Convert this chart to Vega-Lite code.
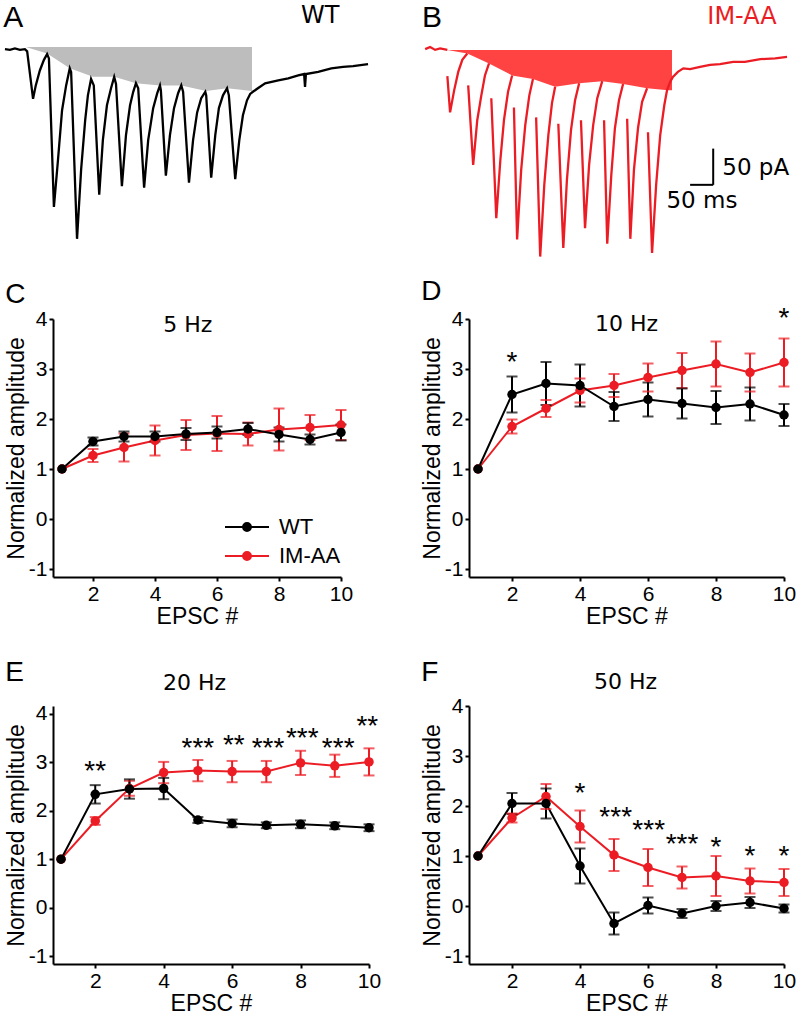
{
  "$schema": "https://vega.github.io/schema/vega-lite/v6.json",
  "padding": {"left": 0, "top": 3, "right": 0, "bottom": 0},
  "background": "white",
  "columns": 1,
  "align": "none",
  "bounds": "full",
  "spacing": 15,
  "resolve": {"scale": {"color": "independent"}, "legend": {"color": "independent"}},
  "config": {
    "view": {"stroke": null},
    "font": "Liberation Sans",
    "axis": {"domainColor": "#000000", "domainWidth": 2, "tickColor": "#000000", "tickWidth": 2, "tickSize": 4, "labelColor": "#000000", "labelFontSize": 21, "labelFont": "Liberation Sans", "titleFont": "Liberation Sans", "titleFontSize": 23, "titleFontWeight": "normal", "titleColor": "#000000", "grid": false, "labelPadding": 2, "labelFlush": false, "labelOverlap": false},
    "axisY": {"titlePadding": 0},
    "axisX": {"titlePadding": 1},
    "title": {"fontWeight": "normal", "fontSize": 28, "font": "Liberation Sans", "anchor": "start", "frame": "bounds", "color": "#000000"}
  },
  "concat": [
    {
      "spacing": 42,
      "bounds": "full",
      "hconcat": [
        {
          "width": 325, "height": 255,
          "encoding": {
            "x": {"field": "t", "type": "quantitative", "scale": {"domain": [106, 823], "nice": false, "zero": false}, "axis": null},
            "y": {"field": "i", "type": "quantitative", "scale": {"domain": [-294, 65], "nice": false, "zero": false}, "axis": null}
          },
          "layer": [
            {"data": {"values": [{"t":46,"i":3},{"t":93,"i":-6},{"t":143,"i":-27},{"t":194,"i":-39},{"t":241,"i":-39},{"t":289,"i":-48},{"t":342,"i":-51},{"t":389,"i":-51},{"t":444,"i":-59},{"t":490,"i":-55},{"t":545,"i":-59}]},
             "mark": {"type": "area", "color": "#bdbdbd", "opacity": 1}, "encoding": {"y2": {"datum": 3}}},
            {"data": {"values": [{"t":0,"i":0},{"t":11,"i":-1},{"t":22,"i":1},{"t":33,"i":-1},{"t":44,"i":0},{"t":49,"i":-3},{"t":62,"i":-70},{"t":68,"i":-51},{"t":77,"i":-30},{"t":86,"i":-15},{"t":93,"i":-7},{"t":97,"i":-13},{"t":108,"i":-222},{"t":117,"i":-156},{"t":126,"i":-86},{"t":135,"i":-51},{"t":143,"i":-27},{"t":146,"i":-32},{"t":159,"i":-267},{"t":168,"i":-170},{"t":177,"i":-100},{"t":183,"i":-65},{"t":190,"i":-42},{"t":196,"i":-51},{"t":208,"i":-205},{"t":216,"i":-128},{"t":225,"i":-79},{"t":234,"i":-55},{"t":241,"i":-39},{"t":245,"i":-49},{"t":258,"i":-193},{"t":267,"i":-121},{"t":276,"i":-79},{"t":283,"i":-60},{"t":289,"i":-48},{"t":294,"i":-55},{"t":307,"i":-195},{"t":316,"i":-128},{"t":327,"i":-83},{"t":336,"i":-62},{"t":342,"i":-51},{"t":344,"i":-58},{"t":355,"i":-178},{"t":364,"i":-121},{"t":373,"i":-83},{"t":382,"i":-62},{"t":389,"i":-51},{"t":393,"i":-60},{"t":406,"i":-188},{"t":415,"i":-128},{"t":424,"i":-89},{"t":433,"i":-69},{"t":442,"i":-60},{"t":444,"i":-65},{"t":455,"i":-181},{"t":464,"i":-121},{"t":472,"i":-83},{"t":481,"i":-65},{"t":490,"i":-55},{"t":494,"i":-65},{"t":508,"i":-183},{"t":517,"i":-128},{"t":525,"i":-93},{"t":534,"i":-72},{"t":541,"i":-63},{"t":547,"i":-60},{"t":558,"i":-55},{"t":574,"i":-48},{"t":603,"i":-44},{"t":625,"i":-41},{"t":647,"i":-37},{"t":660,"i":-35},{"t":662,"i":-53},{"t":664,"i":-35},{"t":691,"i":-32},{"t":720,"i":-27},{"t":746,"i":-25},{"t":768,"i":-24},{"t":801,"i":-21}]},
             "mark": {"type": "line", "color": "#000000", "strokeWidth": 2.3}},
            {"data": {"values": [{"t": -4, "i": 31, "label": "A"}]},
             "mark": {"type": "text", "font": "Liberation Sans", "fontSize": 30, "align": "left", "baseline": "alphabetic", "color": "#000000"},
             "encoding": {"text": {"field": "label"}}},
            {"data": {"values": [{"t": 653, "i": 37, "label": "WT"}]},
             "mark": {"type": "text", "font": "DejaVu Sans", "fontSize": 24, "align": "left", "baseline": "alphabetic", "color": "#000000"},
             "encoding": {"text": {"field": "label"}}}
          ]
        },
        {
          "width": 370, "height": 255,
          "encoding": {
            "x": {"field": "t", "type": "quantitative", "scale": {"domain": [-7, 810], "nice": false, "zero": false}, "axis": null},
            "y": {"field": "i", "type": "quantitative", "scale": {"domain": [-294, 65], "nice": false, "zero": false}, "axis": null}
          },
          "layer": [
            {"data": {"values": [{"t":49,"i":-1},{"t":93,"i":-6},{"t":141,"i":-20},{"t":192,"i":-37},{"t":238,"i":-42},{"t":287,"i":-53},{"t":340,"i":-48},{"t":391,"i":-45},{"t":437,"i":-49},{"t":490,"i":-55},{"t":536,"i":-58},{"t":545,"i":-58}]},
             "mark": {"type": "area", "color": "#ff4343", "opacity": 1}, "encoding": {"y2": {"datum": -1}}},
            {"data": {"values": [
              {"seg":0,"t":0,"i":0},{"seg":0,"t":11,"i":3},{"seg":0,"t":22,"i":-1},{"seg":0,"t":33,"i":1},{"seg":0,"t":49,"i":-1},
              {"seg":1,"t":49,"i":-38},{"seg":1,"t":55,"i":-89},{"seg":1,"t":64,"i":-58},{"seg":1,"t":73,"i":-32},{"seg":1,"t":82,"i":-15},{"seg":1,"t":93,"i":-6},
              {"seg":2,"t":95,"i":-51},{"seg":2,"t":106,"i":-163},{"seg":2,"t":115,"i":-100},{"seg":2,"t":124,"i":-65},{"seg":2,"t":132,"i":-37},{"seg":2,"t":141,"i":-20},
              {"seg":3,"t":146,"i":-69},{"seg":3,"t":157,"i":-238},{"seg":3,"t":166,"i":-156},{"seg":3,"t":174,"i":-100},{"seg":3,"t":183,"i":-60},{"seg":3,"t":192,"i":-37},
              {"seg":4,"t":196,"i":-82},{"seg":4,"t":203,"i":-268},{"seg":4,"t":212,"i":-170},{"seg":4,"t":221,"i":-107},{"seg":4,"t":230,"i":-65},{"seg":4,"t":238,"i":-42},
              {"seg":5,"t":245,"i":-96},{"seg":5,"t":254,"i":-292},{"seg":5,"t":263,"i":-191},{"seg":5,"t":272,"i":-121},{"seg":5,"t":280,"i":-76},{"seg":5,"t":287,"i":-53},
              {"seg":6,"t":294,"i":-105},{"seg":6,"t":305,"i":-280},{"seg":6,"t":313,"i":-184},{"seg":6,"t":322,"i":-114},{"seg":6,"t":331,"i":-72},{"seg":6,"t":340,"i":-48},
              {"seg":7,"t":344,"i":-100},{"seg":7,"t":353,"i":-252},{"seg":7,"t":362,"i":-163},{"seg":7,"t":371,"i":-107},{"seg":7,"t":380,"i":-69},{"seg":7,"t":391,"i":-45},
              {"seg":8,"t":395,"i":-100},{"seg":8,"t":402,"i":-274},{"seg":8,"t":411,"i":-177},{"seg":8,"t":419,"i":-111},{"seg":8,"t":428,"i":-72},{"seg":8,"t":437,"i":-49},
              {"seg":9,"t":446,"i":-98},{"seg":9,"t":453,"i":-267},{"seg":9,"t":461,"i":-170},{"seg":9,"t":470,"i":-111},{"seg":9,"t":479,"i":-74},{"seg":9,"t":490,"i":-55},
              {"seg":10,"t":492,"i":-117},{"seg":10,"t":501,"i":-287},{"seg":10,"t":510,"i":-191},{"seg":10,"t":519,"i":-121},{"seg":10,"t":528,"i":-79},{"seg":10,"t":534,"i":-58},{"seg":10,"t":541,"i":-46},{"seg":10,"t":547,"i":-39},{"seg":10,"t":558,"i":-32},{"seg":10,"t":570,"i":-27},{"seg":10,"t":585,"i":-28},{"seg":10,"t":607,"i":-25},{"seg":10,"t":629,"i":-22},{"seg":10,"t":651,"i":-21},{"seg":10,"t":680,"i":-18},{"seg":10,"t":706,"i":-18},{"seg":10,"t":740,"i":-14},{"seg":10,"t":773,"i":-13},{"seg":10,"t":799,"i":-11}
            ]},
             "mark": {"type": "line", "color": "#ec1c24", "strokeWidth": 2.3},
             "encoding": {"detail": {"field": "seg", "type": "nominal"}}},
            {"data": {"values": [{"t": 636, "i": -140, "t2": 636, "i2": -191}, {"t": 585, "i": -191, "t2": 636, "i2": -191}]},
             "mark": {"type": "rule", "color": "#000000", "strokeWidth": 2},
             "encoding": {"x2": {"field": "t2"}, "y2": {"field": "i2"}}},
            {"data": {"values": [{"t": 656, "i": -177, "label": "50 pA"}]},
             "mark": {"type": "text", "font": "DejaVu Sans", "fontSize": 23, "align": "left", "baseline": "alphabetic", "color": "#000000"},
             "encoding": {"text": {"field": "label"}}},
            {"data": {"values": [{"t": 611, "i": -223, "label": "50 ms"}]},
             "mark": {"type": "text", "font": "DejaVu Sans", "fontSize": 23, "align": "center", "baseline": "alphabetic", "color": "#000000"},
             "encoding": {"text": {"field": "label"}}},
            {"data": {"values": [{"t": -7, "i": 31, "label": "B"}]},
             "mark": {"type": "text", "font": "Liberation Sans", "fontSize": 30, "align": "left", "baseline": "alphabetic", "color": "#000000"},
             "encoding": {"text": {"field": "label"}}},
            {"data": {"values": [{"t": 623, "i": 35, "label": "IM-AA"}]},
             "mark": {"type": "text", "font": "DejaVu Sans", "fontSize": 24, "align": "left", "baseline": "alphabetic", "color": "#ec1c24"},
             "encoding": {"text": {"field": "label"}}}
          ]
        }
      ]
    },
    {
      "columns": 2,
      "spacing": {"row": 31, "column": 40},
      "align": "each",
      "bounds": "full",
      "resolve": {"scale": {"color": "independent"}, "legend": {"color": "independent"}},
      "concat": [
        {
          "title": {"text": "C", "offset": -1},
          "width": 288, "height": 258,
          "data": {"values": [
            {"EPSC":1,"geno":"IM-AA","amp":1.0},
            {"EPSC":2,"geno":"IM-AA","amp":1.27,"lo":1.14,"hi":1.40},
            {"EPSC":3,"geno":"IM-AA","amp":1.43,"lo":1.15,"hi":1.71},
            {"EPSC":4,"geno":"IM-AA","amp":1.57,"lo":1.27,"hi":1.87},
            {"EPSC":5,"geno":"IM-AA","amp":1.68,"lo":1.38,"hi":1.98},
            {"EPSC":6,"geno":"IM-AA","amp":1.71,"lo":1.36,"hi":2.06},
            {"EPSC":7,"geno":"IM-AA","amp":1.70,"lo":1.47,"hi":1.93},
            {"EPSC":8,"geno":"IM-AA","amp":1.79,"lo":1.37,"hi":2.21},
            {"EPSC":9,"geno":"IM-AA","amp":1.83,"lo":1.58,"hi":2.08},
            {"EPSC":10,"geno":"IM-AA","amp":1.88,"lo":1.58,"hi":2.18},
            {"EPSC":1,"geno":"WT","amp":1.0},
            {"EPSC":2,"geno":"WT","amp":1.55,"lo":1.47,"hi":1.63},
            {"EPSC":3,"geno":"WT","amp":1.65,"lo":1.55,"hi":1.75},
            {"EPSC":4,"geno":"WT","amp":1.65,"lo":1.55,"hi":1.75},
            {"EPSC":5,"geno":"WT","amp":1.70,"lo":1.58,"hi":1.82},
            {"EPSC":6,"geno":"WT","amp":1.73,"lo":1.61,"hi":1.85},
            {"EPSC":7,"geno":"WT","amp":1.80,"lo":1.68,"hi":1.92},
            {"EPSC":8,"geno":"WT","amp":1.69,"lo":1.55,"hi":1.83},
            {"EPSC":9,"geno":"WT","amp":1.59,"lo":1.49,"hi":1.69},
            {"EPSC":10,"geno":"WT","amp":1.73,"lo":1.57,"hi":1.89}
          ]},
          "encoding": {
            "x": {"field": "EPSC", "type": "quantitative", "title": "EPSC #", "scale": {"domain": [0.71, 10], "nice": false, "zero": false}, "axis": {"values": [2,4,6,8,10]}},
            "y": {"field": "amp", "type": "quantitative", "title": "Normalized amplitude", "scale": {"domain": [-1.16, 4], "nice": false, "zero": false}, "axis": {"values": [-1,0,1,2,3,4], "labelExpr": "replace(datum.label, '\u2212', '-')"}},
            "color": {"field": "geno", "type": "nominal", "scale": {"domain": ["WT", "IM-AA"], "range": ["#000000", "#ec1c24"]},
              "legend": {"orient": "none", "legendX": 182, "legendY": 196, "title": null, "padding": 0,
                "symbolType": "M-2,0H2M-0.36,0A0.36,0.36,0,1,1,0.36,0A0.36,0.36,0,1,1,-0.36,0Z",
                "symbolSize": 484, "symbolStrokeWidth": 2, "labelFontSize": 22, "labelFont": "Liberation Sans", "labelColor": "#000000", "labelOffset": 20, "rowPadding": 6,
                "encode": {"symbols": {"update": {"fill": {"signal": "datum.value === 'WT' ? '#000000' : '#ec1c24'"}, "stroke": {"signal": "datum.value === 'WT' ? '#000000' : '#ec1c24'"}, "opacity": {"value": 1}}}}}}
          },
          "layer": [
            {"mark": {"type": "line", "strokeWidth": 2}},
            {"transform": [{"filter": "isValid(datum.lo)"}], "mark": {"type": "rule", "strokeWidth": 2}, "encoding": {"y": {"field": "lo", "type": "quantitative", "title": "Normalized amplitude"}, "y2": {"field": "hi"}}},
            {"transform": [{"filter": "isValid(datum.lo)"}], "mark": {"type": "tick", "orient": "horizontal", "size": 11, "thickness": 2}, "encoding": {"y": {"field": "lo", "type": "quantitative", "title": "Normalized amplitude"}}},
            {"transform": [{"filter": "isValid(datum.hi)"}], "mark": {"type": "tick", "orient": "horizontal", "size": 11, "thickness": 2}, "encoding": {"y": {"field": "hi", "type": "quantitative", "title": "Normalized amplitude"}}},
            {"mark": {"type": "point", "filled": true, "size": 90, "opacity": 1}},
            {"data": {"values": [{"EPSC": 5.06, "amp": 3.9, "label": "5 Hz"}]}, "mark": {"type": "text", "font": "DejaVu Sans", "fontSize": 22, "baseline": "alphabetic", "dy": 8}, "encoding": {"text": {"field": "label"}, "color": {"value": "#000000"}}}
          ]
        },
        {
          "title": {"text": "D", "offset": -1},
          "width": 315, "height": 258,
          "data": {"values": [
            {"EPSC":1,"geno":"IM-AA","amp":1.0},
            {"EPSC":2,"geno":"IM-AA","amp":1.85,"lo":1.71,"hi":1.99},
            {"EPSC":3,"geno":"IM-AA","amp":2.21,"lo":2.04,"hi":2.38},
            {"EPSC":4,"geno":"IM-AA","amp":2.57,"lo":2.33,"hi":2.81},
            {"EPSC":5,"geno":"IM-AA","amp":2.67,"lo":2.44,"hi":2.90},
            {"EPSC":6,"geno":"IM-AA","amp":2.83,"lo":2.55,"hi":3.11},
            {"EPSC":7,"geno":"IM-AA","amp":2.97,"lo":2.62,"hi":3.32},
            {"EPSC":8,"geno":"IM-AA","amp":3.10,"lo":2.65,"hi":3.55},
            {"EPSC":9,"geno":"IM-AA","amp":2.93,"lo":2.55,"hi":3.31},
            {"EPSC":10,"geno":"IM-AA","amp":3.13,"lo":2.65,"hi":3.61},
            {"EPSC":1,"geno":"WT","amp":1.0},
            {"EPSC":2,"geno":"WT","amp":2.49,"lo":2.13,"hi":2.85},
            {"EPSC":3,"geno":"WT","amp":2.71,"lo":2.28,"hi":3.14},
            {"EPSC":4,"geno":"WT","amp":2.67,"lo":2.25,"hi":3.09},
            {"EPSC":5,"geno":"WT","amp":2.25,"lo":1.96,"hi":2.54},
            {"EPSC":6,"geno":"WT","amp":2.39,"lo":2.05,"hi":2.73},
            {"EPSC":7,"geno":"WT","amp":2.31,"lo":2.01,"hi":2.61},
            {"EPSC":8,"geno":"WT","amp":2.23,"lo":1.90,"hi":2.56},
            {"EPSC":9,"geno":"WT","amp":2.30,"lo":1.97,"hi":2.63},
            {"EPSC":10,"geno":"WT","amp":2.08,"lo":1.86,"hi":2.30}
          ]},
          "encoding": {
            "x": {"field": "EPSC", "type": "quantitative", "title": "EPSC #", "scale": {"domain": [0.735, 10], "nice": false, "zero": false}, "axis": {"values": [2,4,6,8,10]}},
            "y": {"field": "amp", "type": "quantitative", "title": "Normalized amplitude", "scale": {"domain": [-1.16, 4], "nice": false, "zero": false}, "axis": {"values": [-1,0,1,2,3,4], "labelExpr": "replace(datum.label, '\u2212', '-')"}},
            "color": {"field": "geno", "type": "nominal", "scale": {"domain": ["WT", "IM-AA"], "range": ["#000000", "#ec1c24"]}, "legend": null}
          },
          "layer": [
            {"mark": {"type": "line", "strokeWidth": 2}},
            {"transform": [{"filter": "isValid(datum.lo)"}], "mark": {"type": "rule", "strokeWidth": 2}, "encoding": {"y": {"field": "lo", "type": "quantitative", "title": "Normalized amplitude"}, "y2": {"field": "hi"}}},
            {"transform": [{"filter": "isValid(datum.lo)"}], "mark": {"type": "tick", "orient": "horizontal", "size": 11, "thickness": 2}, "encoding": {"y": {"field": "lo", "type": "quantitative", "title": "Normalized amplitude"}}},
            {"transform": [{"filter": "isValid(datum.hi)"}], "mark": {"type": "tick", "orient": "horizontal", "size": 11, "thickness": 2}, "encoding": {"y": {"field": "hi", "type": "quantitative", "title": "Normalized amplitude"}}},
            {"mark": {"type": "point", "filled": true, "size": 90, "opacity": 1}},
            {"data": {"values": [{"EPSC": 5.37, "amp": 3.93, "label": "10 Hz"}]}, "mark": {"type": "text", "font": "DejaVu Sans", "fontSize": 22, "baseline": "alphabetic", "dy": 8}, "encoding": {"text": {"field": "label"}, "color": {"value": "#000000"}}},
            {"data": {"values": [{"EPSC": 2, "amp": 3.25, "label": "*"}, {"EPSC": 10, "amp": 4.13, "label": "*"}]}, "mark": {"type": "text", "font": "Liberation Sans", "fontSize": 28, "baseline": "alphabetic", "dy": 14}, "encoding": {"text": {"field": "label"}, "color": {"value": "#000000"}}}
          ]
        },
        {
          "title": {"text": "E", "offset": -15},
          "width": 316, "height": 258,
          "data": {"values": [
            {"EPSC":1,"geno":"IM-AA","amp":1.0},
            {"EPSC":2,"geno":"IM-AA","amp":1.79,"lo":1.71,"hi":1.87},
            {"EPSC":3,"geno":"IM-AA","amp":2.46,"lo":2.31,"hi":2.62},
            {"EPSC":4,"geno":"IM-AA","amp":2.79,"lo":2.57,"hi":3.01},
            {"EPSC":5,"geno":"IM-AA","amp":2.83,"lo":2.61,"hi":3.05},
            {"EPSC":6,"geno":"IM-AA","amp":2.81,"lo":2.59,"hi":3.03},
            {"EPSC":7,"geno":"IM-AA","amp":2.81,"lo":2.59,"hi":3.03},
            {"EPSC":8,"geno":"IM-AA","amp":2.99,"lo":2.74,"hi":3.24},
            {"EPSC":9,"geno":"IM-AA","amp":2.93,"lo":2.70,"hi":3.16},
            {"EPSC":10,"geno":"IM-AA","amp":3.01,"lo":2.73,"hi":3.29},
            {"EPSC":1,"geno":"WT","amp":1.0},
            {"EPSC":2,"geno":"WT","amp":2.34,"lo":2.15,"hi":2.53},
            {"EPSC":3,"geno":"WT","amp":2.45,"lo":2.25,"hi":2.65},
            {"EPSC":4,"geno":"WT","amp":2.46,"lo":2.24,"hi":2.68},
            {"EPSC":5,"geno":"WT","amp":1.81,"lo":1.75,"hi":1.87},
            {"EPSC":6,"geno":"WT","amp":1.74,"lo":1.66,"hi":1.82},
            {"EPSC":7,"geno":"WT","amp":1.70,"lo":1.64,"hi":1.76},
            {"EPSC":8,"geno":"WT","amp":1.72,"lo":1.64,"hi":1.80},
            {"EPSC":9,"geno":"WT","amp":1.69,"lo":1.62,"hi":1.76},
            {"EPSC":10,"geno":"WT","amp":1.65,"lo":1.58,"hi":1.72}
          ]},
          "encoding": {
            "x": {"field": "EPSC", "type": "quantitative", "title": "EPSC #", "scale": {"domain": [0.766, 10], "nice": false, "zero": false}, "axis": {"values": [2,4,6,8,10]}},
            "y": {"field": "amp", "type": "quantitative", "title": "Normalized amplitude", "scale": {"domain": [-1.165, 4.165], "nice": false, "zero": false}, "axis": {"values": [-1,0,1,2,3,4], "labelExpr": "replace(datum.label, '\u2212', '-')"}},
            "color": {"field": "geno", "type": "nominal", "scale": {"domain": ["WT", "IM-AA"], "range": ["#000000", "#ec1c24"]}, "legend": null}
          },
          "layer": [
            {"mark": {"type": "line", "strokeWidth": 2}},
            {"transform": [{"filter": "isValid(datum.lo)"}], "mark": {"type": "rule", "strokeWidth": 2}, "encoding": {"y": {"field": "lo", "type": "quantitative", "title": "Normalized amplitude"}, "y2": {"field": "hi"}}},
            {"transform": [{"filter": "isValid(datum.lo)"}], "mark": {"type": "tick", "orient": "horizontal", "size": 11, "thickness": 2}, "encoding": {"y": {"field": "lo", "type": "quantitative", "title": "Normalized amplitude"}}},
            {"transform": [{"filter": "isValid(datum.hi)"}], "mark": {"type": "tick", "orient": "horizontal", "size": 11, "thickness": 2}, "encoding": {"y": {"field": "hi", "type": "quantitative", "title": "Normalized amplitude"}}},
            {"mark": {"type": "point", "filled": true, "size": 90, "opacity": 1}},
            {"data": {"values": [{"EPSC": 4.9, "amp": 4.66, "label": "20 Hz"}]}, "mark": {"type": "text", "font": "DejaVu Sans", "fontSize": 22, "baseline": "alphabetic", "dy": 8}, "encoding": {"text": {"field": "label"}, "color": {"value": "#000000"}}},
            {"data": {"values": [{"EPSC": 2, "amp": 2.93, "label": "**"}, {"EPSC": 5, "amp": 3.4, "label": "***"}, {"EPSC": 6.05, "amp": 3.47, "label": "**"}, {"EPSC": 7.05, "amp": 3.4, "label": "***"}, {"EPSC": 8.05, "amp": 3.6, "label": "***"}, {"EPSC": 9.1, "amp": 3.4, "label": "***"}, {"EPSC": 9.95, "amp": 3.86, "label": "**"}]}, "mark": {"type": "text", "font": "Liberation Sans", "fontSize": 28, "baseline": "alphabetic", "dy": 14}, "encoding": {"text": {"field": "label"}, "color": {"value": "#000000"}}}
          ]
        },
        {
          "title": {"text": "F", "offset": -16},
          "width": 315, "height": 258,
          "data": {"values": [
            {"EPSC":1,"geno":"IM-AA","amp":1.0},
            {"EPSC":2,"geno":"IM-AA","amp":1.76,"lo":1.67,"hi":1.85},
            {"EPSC":3,"geno":"IM-AA","amp":2.19,"lo":1.94,"hi":2.44},
            {"EPSC":4,"geno":"IM-AA","amp":1.59,"lo":1.27,"hi":1.91},
            {"EPSC":5,"geno":"IM-AA","amp":1.02,"lo":0.70,"hi":1.34},
            {"EPSC":6,"geno":"IM-AA","amp":0.77,"lo":0.40,"hi":1.14},
            {"EPSC":7,"geno":"IM-AA","amp":0.57,"lo":0.35,"hi":0.79},
            {"EPSC":8,"geno":"IM-AA","amp":0.60,"lo":0.20,"hi":1.00},
            {"EPSC":9,"geno":"IM-AA","amp":0.50,"lo":0.25,"hi":0.75},
            {"EPSC":10,"geno":"IM-AA","amp":0.47,"lo":0.20,"hi":0.74},
            {"EPSC":1,"geno":"WT","amp":1.0},
            {"EPSC":2,"geno":"WT","amp":2.05,"lo":1.84,"hi":2.26},
            {"EPSC":3,"geno":"WT","amp":2.05,"lo":1.75,"hi":2.35},
            {"EPSC":4,"geno":"WT","amp":0.80,"lo":0.45,"hi":1.15},
            {"EPSC":5,"geno":"WT","amp":-0.35,"lo":-0.57,"hi":-0.13},
            {"EPSC":6,"geno":"WT","amp":0.01,"lo":-0.15,"hi":0.17},
            {"EPSC":7,"geno":"WT","amp":-0.15,"lo":-0.24,"hi":-0.06},
            {"EPSC":8,"geno":"WT","amp":0.00,"lo":-0.10,"hi":0.10},
            {"EPSC":9,"geno":"WT","amp":0.07,"lo":-0.04,"hi":0.18},
            {"EPSC":10,"geno":"WT","amp":-0.05,"lo":-0.13,"hi":0.03}
          ]},
          "encoding": {
            "x": {"field": "EPSC", "type": "quantitative", "title": "EPSC #", "scale": {"domain": [0.735, 10], "nice": false, "zero": false}, "axis": {"values": [2,4,6,8,10]}},
            "y": {"field": "amp", "type": "quantitative", "title": "Normalized amplitude", "scale": {"domain": [-1.16, 4], "nice": false, "zero": false}, "axis": {"values": [-1,0,1,2,3,4], "labelExpr": "replace(datum.label, '\u2212', '-')"}},
            "color": {"field": "geno", "type": "nominal", "scale": {"domain": ["WT", "IM-AA"], "range": ["#000000", "#ec1c24"]}, "legend": null}
          },
          "layer": [
            {"mark": {"type": "line", "strokeWidth": 2}},
            {"transform": [{"filter": "isValid(datum.lo)"}], "mark": {"type": "rule", "strokeWidth": 2}, "encoding": {"y": {"field": "lo", "type": "quantitative", "title": "Normalized amplitude"}, "y2": {"field": "hi"}}},
            {"transform": [{"filter": "isValid(datum.lo)"}], "mark": {"type": "tick", "orient": "horizontal", "size": 11, "thickness": 2}, "encoding": {"y": {"field": "lo", "type": "quantitative", "title": "Normalized amplitude"}}},
            {"transform": [{"filter": "isValid(datum.hi)"}], "mark": {"type": "tick", "orient": "horizontal", "size": 11, "thickness": 2}, "encoding": {"y": {"field": "hi", "type": "quantitative", "title": "Normalized amplitude"}}},
            {"mark": {"type": "point", "filled": true, "size": 90, "opacity": 1}},
            {"data": {"values": [{"EPSC": 5.34, "amp": 4.5, "label": "50 Hz"}]}, "mark": {"type": "text", "font": "DejaVu Sans", "fontSize": 22, "baseline": "alphabetic", "dy": 8}, "encoding": {"text": {"field": "label"}, "color": {"value": "#000000"}}},
            {"data": {"values": [{"EPSC": 4, "amp": 2.37, "label": "*"}, {"EPSC": 5.05, "amp": 1.88, "label": "***"}, {"EPSC": 6.02, "amp": 1.62, "label": "***"}, {"EPSC": 7, "amp": 1.34, "label": "***"}, {"EPSC": 8, "amp": 1.28, "label": "*"}, {"EPSC": 9, "amp": 1.1, "label": "*"}, {"EPSC": 10, "amp": 1.1, "label": "*"}]}, "mark": {"type": "text", "font": "Liberation Sans", "fontSize": 28, "baseline": "alphabetic", "dy": 14}, "encoding": {"text": {"field": "label"}, "color": {"value": "#000000"}}}
          ]
        }
      ]
    }
  ]
}
